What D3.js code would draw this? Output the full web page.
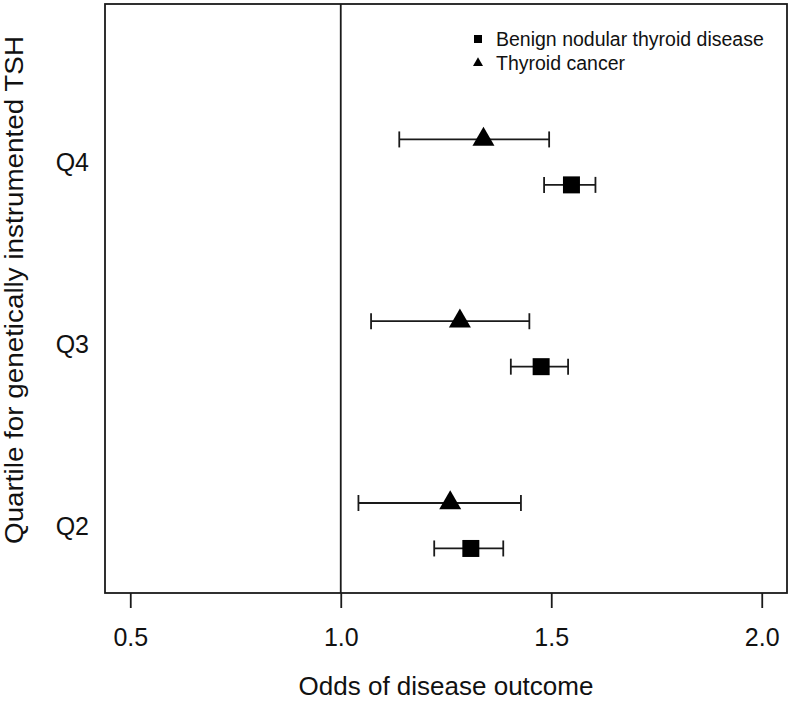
<!DOCTYPE html>
<html>
<head>
<meta charset="utf-8">
<script src="https://cdn.jsdelivr.net/npm/d3@7/dist/d3.min.js"></script>
<style>
  html, body { margin: 0; padding: 0; background: #fff; }
  svg { display: block; font-family: "Liberation Sans", Arial, sans-serif; }
</style>
</head>
<body>
<div id="chart"></div>
<script>
// odds ratios, per quartile of genetically instrumented TSH
const quartiles = ['Q2', 'Q3', 'Q4'];
const quartilePos = [2, 3, 4];

const benignOR = [1.309, 1.476, 1.548];
const benignLo = [1.222, 1.404, 1.483];
const benignHi = [1.386, 1.540, 1.605];

const cancerOR = [1.260, 1.283, 1.339];
const cancerLo = [1.042, 1.072, 1.139];
const cancerHi = [1.428, 1.448, 1.495];

const xTicks = [0.5, 1.0, 1.5, 2.0];
const legendLabels = ['Benign nodular thyroid disease', 'Thyroid cancer'];

const width = 793;
const height = 701;
const box = { left: 105, right: 787, top: 4, bottom: 593 };

const svg = d3.select('#chart')
  .append('svg')
  .attr('width', width)
  .attr('height', height);

// R-style 4% axis extension
const x = d3.scaleLinear().domain([0.44, 2.06]).range([box.left, box.right]);
const y = d3.scaleLinear().domain([1.63, 4.87]).range([box.bottom, box.top]);

const ink = '#1a1a1a';
const offset = 0.125;

// reference line at OR = 1
svg.append('line')
  .attr('x1', x(1)).attr('x2', x(1))
  .attr('y1', box.top).attr('y2', box.bottom)
  .attr('stroke', ink)
  .attr('stroke-width', 1.8);

function drawSeries(or, lo, hi, dy, shape) {
  const rows = or.map((v, i) => ({ v, lo: lo[i], hi: hi[i], yPos: quartilePos[i] + dy }));
  const g = svg.append('g');

  const bars = g.selectAll('.bar')
    .data(rows)
    .enter()
    .append('g');

  bars.append('line')
    .attr('x1', (d) => x(d.lo)).attr('x2', (d) => x(d.hi))
    .attr('y1', (d) => y(d.yPos)).attr('y2', (d) => y(d.yPos))
    .attr('stroke', ink).attr('stroke-width', 1.8);

  ['lo', 'hi'].forEach((k) => {
    bars.append('line')
      .attr('x1', (d) => x(d[k])).attr('x2', (d) => x(d[k]))
      .attr('y1', (d) => y(d.yPos) - 8).attr('y2', (d) => y(d.yPos) + 8)
      .attr('stroke', ink).attr('stroke-width', 1.8);
  });

  bars.append('path')
    .attr('d', shape)
    .attr('transform', (d) => `translate(${x(d.v)}, ${y(d.yPos)})`)
    .attr('fill', '#000');
}

const squarePath = (s) => `M${-s / 2},${-s / 2}H${s / 2}V${s / 2}H${-s / 2}Z`;
const trianglePath = (side) => {
  const h = side * Math.sqrt(3) / 2;
  return `M0,${-2 * h / 3}L${side / 2},${h / 3}L${-side / 2},${h / 3}Z`;
};

drawSeries(benignOR, benignLo, benignHi, -offset, squarePath(17));
drawSeries(cancerOR, cancerLo, cancerHi, offset, trianglePath(22));

// frame
svg.append('rect')
  .attr('x', box.left).attr('y', box.top)
  .attr('width', box.right - box.left)
  .attr('height', box.bottom - box.top)
  .attr('fill', 'none')
  .attr('stroke', ink)
  .attr('stroke-width', 1.8);

// x axis
const xAxis = svg.append('g')
  .attr('transform', `translate(0, ${box.bottom})`)
  .call(d3.axisBottom(x).tickValues(xTicks).tickFormat(d3.format('.1f')).tickSize(15).tickPadding(20));

xAxis.select('.domain').remove();
xAxis.selectAll('.tick line').attr('stroke', ink).attr('stroke-width', 1.8);
xAxis.selectAll('.tick text')
  .attr('fill', '#111')
  .attr('font-size', '25px')
  .attr('font-family', '"Liberation Sans", Arial, sans-serif');

svg.append('text')
  .attr('x', (box.left + box.right) / 2)
  .attr('y', 695)
  .attr('text-anchor', 'middle')
  .attr('font-size', '26px')
  .attr('fill', '#111')
  .text('Odds of disease outcome');

// y labels
svg.selectAll('.qlab')
  .data(quartiles)
  .enter()
  .append('text')
  .attr('x', 89)
  .attr('y', (d, i) => y(quartilePos[i]))
  .attr('dy', '0.36em')
  .attr('text-anchor', 'end')
  .attr('font-size', '25px')
  .attr('fill', '#111')
  .text((d) => d);

svg.append('text')
  .attr('transform', `translate(23, 290) rotate(-90)`)
  .attr('text-anchor', 'middle')
  .attr('font-size', '25px')
  .attr('textLength', 508)
  .attr('lengthAdjust', 'spacingAndGlyphs')
  .attr('fill', '#111')
  .text('Quartile for genetically instrumented TSH');

// legend
const legend = svg.append('g').attr('transform', 'translate(478, 39)');
const legendShapes = [squarePath(8), trianglePath(10)];

const items = legend.selectAll('.legend-item')
  .data(legendLabels)
  .enter()
  .append('g')
  .attr('transform', (d, i) => `translate(0, ${i * 24})`);

items.append('path')
  .attr('d', (d, i) => legendShapes[i])
  .attr('fill', '#000');

items.append('text')
  .attr('x', 18)
  .attr('dy', '0.36em')
  .attr('font-size', '19.5px')
  .attr('fill', '#111')
  .text((d) => d);
</script>
</body>
</html>
